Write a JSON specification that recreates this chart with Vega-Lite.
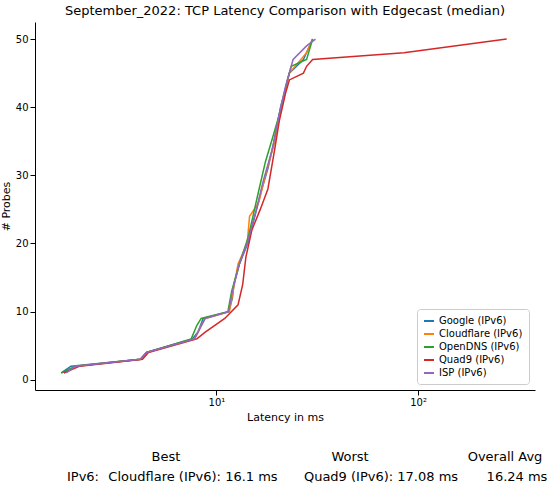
{
  "$schema": "https://vega.github.io/schema/vega-lite/v6.json",
  "padding": {"left": 0, "right": 2, "top": 5, "bottom": 5},
  "config": {"font": "DejaVu Sans", "view": {"stroke": null}},
  "spacing": 25,
  "resolve": {"legend": {"color": "independent"}},
  "vconcat": [
    {
      "width": 500,
      "height": 368,
      "title": {"text": "September_2022: TCP Latency Comparison with Edgecast (median)", "fontSize": 13, "fontWeight": "normal", "font": "DejaVu Sans"},
      "data": {"values": [
        {"s":"Google (IPv6)","x":1.7,"y":1},{"s":"Google (IPv6)","x":1.9,"y":2},{"s":"Google (IPv6)","x":4.2,"y":3},{"s":"Google (IPv6)","x":4.5,"y":4},{"s":"Google (IPv6)","x":7.6,"y":6},{"s":"Google (IPv6)","x":8.1,"y":7},{"s":"Google (IPv6)","x":8.6,"y":9},{"s":"Google (IPv6)","x":11.5,"y":10},{"s":"Google (IPv6)","x":12,"y":12},{"s":"Google (IPv6)","x":12.2,"y":14},{"s":"Google (IPv6)","x":13,"y":17},{"s":"Google (IPv6)","x":14.3,"y":20},{"s":"Google (IPv6)","x":15.5,"y":24},{"s":"Google (IPv6)","x":16.8,"y":28},{"s":"Google (IPv6)","x":18,"y":31},{"s":"Google (IPv6)","x":19.3,"y":35},{"s":"Google (IPv6)","x":20.8,"y":40},{"s":"Google (IPv6)","x":23,"y":45},{"s":"Google (IPv6)","x":27,"y":47},{"s":"Google (IPv6)","x":30,"y":50},
        {"s":"Cloudflare (IPv6)","x":1.75,"y":1},{"s":"Cloudflare (IPv6)","x":2.0,"y":2},{"s":"Cloudflare (IPv6)","x":4.2,"y":3},{"s":"Cloudflare (IPv6)","x":4.5,"y":4},{"s":"Cloudflare (IPv6)","x":7.8,"y":6},{"s":"Cloudflare (IPv6)","x":8.4,"y":8},{"s":"Cloudflare (IPv6)","x":8.8,"y":9},{"s":"Cloudflare (IPv6)","x":11.6,"y":10},{"s":"Cloudflare (IPv6)","x":12.1,"y":13},{"s":"Cloudflare (IPv6)","x":12.8,"y":17},{"s":"Cloudflare (IPv6)","x":14.2,"y":20},{"s":"Cloudflare (IPv6)","x":14.6,"y":24},{"s":"Cloudflare (IPv6)","x":16.2,"y":26},{"s":"Cloudflare (IPv6)","x":17.5,"y":30},{"s":"Cloudflare (IPv6)","x":19.5,"y":35},{"s":"Cloudflare (IPv6)","x":21,"y":40},{"s":"Cloudflare (IPv6)","x":23,"y":45},{"s":"Cloudflare (IPv6)","x":28,"y":48},{"s":"Cloudflare (IPv6)","x":30,"y":50},
        {"s":"OpenDNS (IPv6)","x":1.7,"y":1},{"s":"OpenDNS (IPv6)","x":2.0,"y":2},{"s":"OpenDNS (IPv6)","x":4.2,"y":3},{"s":"OpenDNS (IPv6)","x":4.5,"y":4},{"s":"OpenDNS (IPv6)","x":7.5,"y":6},{"s":"OpenDNS (IPv6)","x":8.0,"y":8},{"s":"OpenDNS (IPv6)","x":8.4,"y":9},{"s":"OpenDNS (IPv6)","x":11.4,"y":10},{"s":"OpenDNS (IPv6)","x":11.9,"y":13},{"s":"OpenDNS (IPv6)","x":13,"y":17},{"s":"OpenDNS (IPv6)","x":14.4,"y":21},{"s":"OpenDNS (IPv6)","x":16,"y":27},{"s":"OpenDNS (IPv6)","x":17.5,"y":32},{"s":"OpenDNS (IPv6)","x":19.2,"y":36},{"s":"OpenDNS (IPv6)","x":21,"y":40},{"s":"OpenDNS (IPv6)","x":22.5,"y":44},{"s":"OpenDNS (IPv6)","x":23.5,"y":46},{"s":"OpenDNS (IPv6)","x":28,"y":47},{"s":"OpenDNS (IPv6)","x":30,"y":50},
        {"s":"Quad9 (IPv6)","x":1.75,"y":1},{"s":"Quad9 (IPv6)","x":2.1,"y":2},{"s":"Quad9 (IPv6)","x":4.3,"y":3},{"s":"Quad9 (IPv6)","x":4.6,"y":4},{"s":"Quad9 (IPv6)","x":8.0,"y":6},{"s":"Quad9 (IPv6)","x":8.8,"y":7},{"s":"Quad9 (IPv6)","x":11,"y":9},{"s":"Quad9 (IPv6)","x":12.8,"y":11},{"s":"Quad9 (IPv6)","x":13.5,"y":14},{"s":"Quad9 (IPv6)","x":14,"y":18},{"s":"Quad9 (IPv6)","x":15,"y":22},{"s":"Quad9 (IPv6)","x":16.5,"y":25},{"s":"Quad9 (IPv6)","x":18,"y":28},{"s":"Quad9 (IPv6)","x":19.5,"y":34},{"s":"Quad9 (IPv6)","x":20.5,"y":38},{"s":"Quad9 (IPv6)","x":22,"y":42},{"s":"Quad9 (IPv6)","x":23,"y":44},{"s":"Quad9 (IPv6)","x":27,"y":45},{"s":"Quad9 (IPv6)","x":28,"y":46},{"s":"Quad9 (IPv6)","x":30,"y":47},{"s":"Quad9 (IPv6)","x":85,"y":48},{"s":"Quad9 (IPv6)","x":275,"y":50},
        {"s":"ISP (IPv6)","x":1.8,"y":1},{"s":"ISP (IPv6)","x":2.0,"y":2},{"s":"ISP (IPv6)","x":4.2,"y":3},{"s":"ISP (IPv6)","x":4.5,"y":4},{"s":"ISP (IPv6)","x":7.8,"y":6},{"s":"ISP (IPv6)","x":8.8,"y":9},{"s":"ISP (IPv6)","x":11.5,"y":10},{"s":"ISP (IPv6)","x":12,"y":13},{"s":"ISP (IPv6)","x":13,"y":17},{"s":"ISP (IPv6)","x":14.2,"y":20},{"s":"ISP (IPv6)","x":15.8,"y":25},{"s":"ISP (IPv6)","x":17,"y":29},{"s":"ISP (IPv6)","x":19,"y":34},{"s":"ISP (IPv6)","x":20.5,"y":39},{"s":"ISP (IPv6)","x":22,"y":43},{"s":"ISP (IPv6)","x":24,"y":47},{"s":"ISP (IPv6)","x":28,"y":49},{"s":"ISP (IPv6)","x":31,"y":50}
      ]},
      "mark": {"type": "line", "strokeWidth": 1.5},
      "encoding": {
        "x": {"field": "x", "type": "quantitative", "title": "Latency in ms",
          "scale": {"type": "log", "domain": [1.26, 380], "nice": false},
          "axis": {"values": [10, 100], "labelExpr": "datum.value == 10 ? '10¹' : '10²'", "grid": false, "domain": true, "domainColor": "black", "tickColor": "black", "labelColor": "black", "labelFontSize": 10, "titleFontSize": 11, "titleFontWeight": "normal"}},
        "y": {"field": "y", "type": "quantitative", "title": "# Probes",
          "scale": {"domain": [-1.5, 52.5], "nice": false},
          "axis": {"values": [0, 10, 20, 30, 40, 50], "grid": false, "domainColor": "black", "tickColor": "black", "labelColor": "black", "labelFontSize": 10, "titleFontSize": 11, "titleFontWeight": "normal"}},
        "color": {"field": "s", "type": "nominal", "title": null,
          "scale": {"domain": ["Google (IPv6)","Cloudflare (IPv6)","OpenDNS (IPv6)","Quad9 (IPv6)","ISP (IPv6)"], "range": ["#1f77b4","#ff7f0e","#2ca02c","#d62728","#9467bd"]},
          "legend": {"orient": "bottom-right", "symbolType": "stroke", "symbolStrokeWidth": 2, "labelFontSize": 10, "strokeColor": "#cccccc", "fillColor": "white", "padding": 6, "cornerRadius": 3, "offset": 6}},
        "order": {"field": "y", "type": "quantitative"}
      }
    },
    {
      "width": 500,
      "height": 40,
      "data": {"values": [
        {"r":"h","p":131,"t":"Best","b":"bold"},
        {"r":"h","p":315,"t":"Worst","b":"bold"},
        {"r":"h","p":470,"t":"Overall Avg","b":"bold"},
        {"r":"v","p":48,"t":"IPv6:","b":"bold"},
        {"r":"v","p":158,"t":"Cloudflare (IPv6): 16.1 ms","b":"normal"},
        {"r":"v","p":346,"t":"Quad9 (IPv6): 17.08 ms","b":"normal"},
        {"r":"v","p":482,"t":"16.24 ms","b":"normal"}
      ]},
      "mark": {"type": "text", "fontSize": 13, "color": "black"},
      "encoding": {
        "x": {"field": "p", "type": "quantitative", "scale": {"domain": [0, 500]}, "axis": null},
        "y": {"field": "r", "type": "nominal", "scale": {"domain": ["h","v"]}, "axis": null},
        "text": {"field": "t"},
        "fontWeight": {"field": "b", "type": "nominal", "scale": null}
      }
    }
  ]
}
